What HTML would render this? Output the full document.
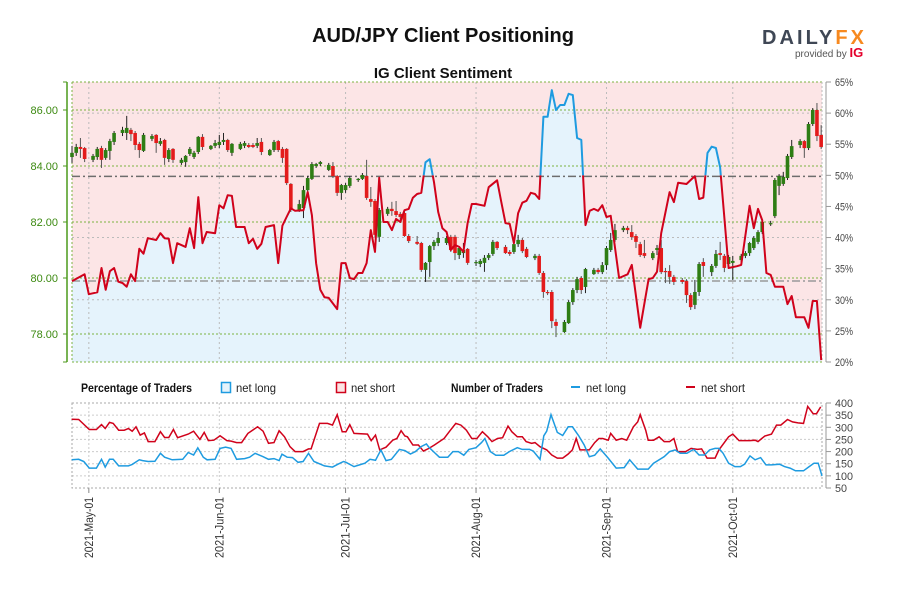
<!DOCTYPE html>
<html><head><meta charset="utf-8"><style>
html,body{margin:0;padding:0;background:#fff;width:900px;height:600px;overflow:hidden}
svg text{font-family:"Liberation Sans",sans-serif}
.nar{font-family:"Liberation Sans Narrow","Liberation Sans",sans-serif}
</style></head><body>
<svg id="c" width="900" height="600" xmlns="http://www.w3.org/2000/svg">
<text x="443" y="42" text-anchor="middle" font-size="20" font-weight="bold" fill="#111">AUD/JPY Client Positioning</text>
<g>
<text x="762" y="44" font-size="20" font-weight="bold" fill="#3f4755" textLength="102" lengthAdjust="spacing">DAILY<tspan fill="#f7891f">FX</tspan></text>
<text x="795" y="57" font-size="10" fill="#555">provided by <tspan fill="#e4002b" font-weight="bold" font-size="13">IG</tspan></text>
</g>
<text x="443" y="78" text-anchor="middle" font-size="15" font-weight="bold" fill="#111">IG Client Sentiment</text>
<g id="main"></g>
<g id="legend">
<text x="81" y="392" font-size="12" font-weight="bold" textLength="111" lengthAdjust="spacingAndGlyphs" fill="#111">Percentage of Traders</text>
<rect x="221.5" y="382.5" width="9" height="10" fill="#e6f3fb" stroke="#1e9be0" stroke-width="1.5"/>
<text x="236" y="392" font-size="12" textLength="40" lengthAdjust="spacingAndGlyphs" fill="#222">net long</text>
<rect x="336.5" y="382.5" width="9" height="10" fill="#fce4e4" stroke="#d0021b" stroke-width="1.5"/>
<text x="351" y="392" font-size="12" textLength="44" lengthAdjust="spacingAndGlyphs" fill="#222">net short</text>
<text x="451" y="392" font-size="12" font-weight="bold" textLength="92" lengthAdjust="spacingAndGlyphs" fill="#111">Number of Traders</text>
<line x1="571" y1="387" x2="580" y2="387" stroke="#1e9be0" stroke-width="2"/>
<text x="586" y="392" font-size="12" textLength="40" lengthAdjust="spacingAndGlyphs" fill="#222">net long</text>
<line x1="686" y1="387" x2="695" y2="387" stroke="#d0021b" stroke-width="2"/>
<text x="701" y="392" font-size="12" textLength="44" lengthAdjust="spacingAndGlyphs" fill="#222">net short</text>
</g>
<g id="bottom"></g>
</svg>
<script>
// ---- data ----
const monthLabels = ["2021-May-01","2021-Jun-01","2021-Jul-01","2021-Aug-01","2021-Sep-01","2021-Oct-01"];
const monthDays = [0,31,61,92,123,153];
const priceTicks = [78,80,82,84,86];
const pctTicks = [20,25,30,35,40,45,50,55,60,65];
const numTicks = [50,100,150,200,250,300,350,400];

const pctDays = [-4,-1,0,2,3,4,5,6,7,8,9,10,11,12,13,14,16,17,18,19,20,21,23,24,25,26,27,28,30,31,32,33,34,35,37,38,39,40,41,42,44,45,46,47,48,49,51,52,53,54,55,56,57,59,60,61,62,63,64,
65,66,67,68,69,70,71,72,73,74,75,76,77,78,79,80,81,82,83,84,85,86,87,88,89,90,91,92,94,95,97,98,99,100,101,102,103,104,105,106,107,108,109,110,111,112,113,114,115,116,117,118,119,120,121,
122,123,124,126,128,129,131,133,134,135,136,138,139,140,142,144,145,146,147,148,149,150,152,154,155,157,158,159,160,161,162,163,165,166,167,168,170,171,172,173,174];
const pctLong = [33.0,34.1,30.9,31.2,35.1,31.6,34.6,35.1,32.9,32.7,32.1,34.1,33.0,38.2,37.4,39.9,39.6,40.7,39.9,39.8,35.9,39.1,38.5,41.5,38.3,46.5,39.1,40.9,40.7,45.2,44.7,46.8,46.7,41.7,41.7,39.1,39.8,38.2,39.0,41.7,42.0,35.9,41.9,43.3,44.7,44.3,44.4,47.3,43.6,35.9,31.6,30.4,30.3,28.5,35.9,35.9,33.5,33.3,34.3,
34.3,35.9,41.2,37.7,49.6,42.5,42.5,41.2,43.0,42.5,44.4,44.6,46.4,47.0,47.2,52.1,52.6,48.9,44.1,41.5,40.9,38.0,38.8,38.5,37.7,42.3,45.4,45.4,45.1,48.1,49.2,45.7,42.3,42.2,39.1,43.9,45.6,45.9,47.2,47.0,46.2,59.4,59.4,63.7,60.5,61.3,61.3,63.1,62.9,56.0,55.7,42.0,44.3,44.6,44.3,
45.2,43.3,43.5,33.5,34.1,35.6,25.5,33.3,33.5,34.5,40.7,47.3,45.7,48.8,48.6,49.9,46.2,46.4,53.6,54.6,54.4,51.3,35.1,35.4,35.6,45.1,41.5,44.6,42.8,34.3,34.0,32.1,32.1,29.3,30.6,27.2,27.2,25.5,29.8,29.8,20.3];

const cDay = [-4,-3,-2,-1,1,2,3,4,5,6,8,9,10,11,12,13,15,16,17,18,19,20,22,23,24,25,26,27,29,30,31,32,33,34,36,37,38,39,40,41,43,44,45,46,47,48,50,51,52,53,54,55,57,58,59,60,61,62,64,65,66,67,68,69,71,72,73,74,75,76,78,79,80,81,82,83,85,86,87,88,89,90,92,93,94,95,96,97,99,100,101,102,103,104,106,107,108,109,110,111,113,114,115,116,117,118,120,121,122,123,124,125,127,128,129,130,131,132,134,135,136,137,138,139,141,142,143,144,145,146,148,149,150,151,152,153,155,156,157,158,159,160,162,163,164,165,166,167,169,170,171,172,173,174];
const cOpen = [84.32,84.47,84.68,84.64,84.22,84.32,84.64,84.29,84.54,84.86,85.18,85.18,85.29,85.18,84.79,84.54,84.97,85.11,84.79,84.93,84.25,84.61,84.11,84.14,84.43,84.32,84.50,85.04,84.61,84.72,84.75,84.86,84.93,84.47,84.61,84.72,84.75,84.75,84.72,84.86,84.39,84.57,84.89,84.61,84.61,83.36,82.43,82.50,83.14,83.54,84.00,84.07,83.86,84.00,83.64,83.04,83.14,83.29,83.50,83.54,83.64,82.82,82.75,81.47,82.29,82.47,82.39,82.29,82.32,81.50,81.29,81.25,80.29,80.57,81.14,81.25,81.25,81.47,81.47,80.82,80.89,81.04,80.54,80.50,80.54,80.72,80.86,81.29,81.11,80.93,80.93,81.21,81.36,81.04,80.71,80.79,80.18,79.50,79.50,78.43,78.07,78.39,79.14,79.57,80.00,79.68,80.14,80.29,80.21,80.46,81.00,81.36,81.71,81.79,81.64,81.50,81.21,80.89,80.71,81.00,81.07,80.25,80.25,80.04,79.93,79.89,79.39,79.04,79.50,80.57,80.21,80.43,80.89,80.79,80.50,80.54,80.64,80.79,80.89,81.07,81.29,81.64,81.93,82.21,83.29,83.36,83.57,84.32,84.75,84.89,84.64,85.50,86.00,85.11];
const cClose = [84.47,84.68,84.61,84.25,84.36,84.61,84.22,84.57,84.89,85.18,85.29,85.36,85.14,84.75,84.57,85.11,85.07,84.82,84.89,84.29,84.57,84.22,84.22,84.36,84.61,84.47,85.04,84.68,84.72,84.82,84.86,84.93,84.57,84.79,84.79,84.82,84.68,84.68,84.82,84.50,84.57,84.86,84.57,84.29,83.39,82.43,82.64,83.14,83.57,84.07,84.07,84.14,84.04,83.64,83.04,83.32,83.32,83.57,83.54,83.68,82.86,82.72,81.54,82.43,82.47,82.39,82.25,82.18,81.50,81.32,81.22,80.29,80.54,81.14,81.29,81.43,81.43,81.00,80.89,81.07,81.00,80.54,80.57,80.61,80.72,80.82,81.29,81.07,80.89,80.86,81.21,81.36,80.96,80.75,80.79,80.18,79.50,79.46,78.46,78.29,78.43,79.14,79.57,79.96,79.57,80.32,80.29,80.21,80.46,81.07,81.36,81.71,81.79,81.71,81.46,81.29,80.82,80.79,80.89,81.07,80.21,80.21,80.04,79.86,79.86,79.39,78.96,79.50,80.50,80.43,80.43,80.86,80.82,80.36,80.75,80.61,80.79,80.89,81.25,81.43,81.64,82.00,81.96,83.50,83.64,83.61,84.36,84.71,84.89,84.64,85.50,86.00,85.07,84.68];
const cHigh = [84.72,84.79,85.00,84.68,84.43,84.68,84.72,84.64,84.97,85.25,85.40,85.79,85.36,85.25,84.86,85.18,85.14,85.14,85.00,84.97,84.64,84.64,84.29,84.39,84.68,84.54,85.07,85.14,84.75,84.93,85.11,85.18,84.97,84.82,84.86,84.89,84.82,84.82,85.00,85.00,84.61,84.93,84.93,84.68,84.64,83.39,82.79,83.29,83.64,84.14,84.11,84.18,84.11,84.14,83.68,83.36,83.39,83.64,83.57,83.75,84.22,83.25,82.82,82.50,82.54,82.72,82.75,82.36,82.39,81.57,81.50,81.29,80.57,81.18,81.36,81.64,81.50,81.54,81.54,81.14,81.25,81.07,80.64,80.68,80.82,80.89,81.36,81.32,81.18,81.00,81.29,81.54,81.43,81.11,80.86,80.86,80.25,79.57,79.57,78.54,78.50,79.21,79.64,80.04,80.07,80.36,80.36,80.36,80.57,81.14,81.61,81.93,81.86,81.86,81.89,81.57,81.29,81.36,80.96,81.18,81.36,80.36,80.46,80.11,80.00,79.96,79.46,79.93,80.57,80.71,80.50,81.00,81.29,80.86,80.82,80.79,80.86,80.96,81.29,81.50,81.71,82.07,82.04,83.57,83.71,83.79,84.43,84.93,84.96,84.93,85.57,86.07,86.25,85.46];
const cLow = [84.11,84.36,84.29,84.14,84.14,84.22,83.93,84.22,84.22,84.75,85.07,84.93,84.89,84.57,84.29,84.50,84.89,84.47,84.72,84.04,84.14,84.11,84.04,83.97,84.36,84.25,84.43,84.57,84.57,84.64,84.64,84.75,84.50,84.36,84.57,84.64,84.64,84.64,84.64,84.39,84.36,84.50,84.50,84.11,83.32,82.36,82.36,82.14,83.07,83.50,83.93,84.00,83.82,83.57,82.93,82.79,83.04,83.22,83.43,83.50,82.79,82.54,81.43,81.29,82.22,82.22,82.18,82.07,81.47,81.25,81.18,80.22,79.86,80.04,81.00,81.14,81.18,80.93,80.64,80.68,80.72,80.47,80.43,80.39,80.22,80.64,80.79,81.00,80.86,80.79,80.86,81.11,80.89,80.71,80.64,80.11,79.29,79.39,78.21,77.89,78.04,78.36,79.04,79.46,79.43,79.46,80.11,80.14,80.14,80.29,80.93,81.29,81.64,81.57,81.36,81.07,80.75,80.71,80.64,80.82,80.14,79.82,79.79,79.75,79.79,79.11,78.86,78.89,79.36,80.04,80.07,80.36,80.64,80.21,80.43,79.93,80.57,80.71,80.79,81.00,81.21,81.57,81.86,82.14,82.96,83.29,83.50,84.25,84.64,84.29,84.57,85.43,84.89,84.61];

const shortDays = [-4.1,-2.4,0.1,1.8,3.0,3.9,4.9,5.8,7.1,8.4,9.4,10.3,11.2,12.2,13.2,14.1,15.7,17.0,18.0,19.0,20.1,21.1,23.6,24.9,26.4,27.4,28.4,29.7,31.2,32.8,33.8,35.1,36.3,37.8,40.1,41.4,42.7,44.0,45.2,46.5,47.8,49.0,50.9,52.2,52.8,54.8,56.7,57.9,59.0,60.2,61.1,62.0,63.0,66.2,67.1,68.1,69.1,70.6,72.2,73.2,74.2,75.1,75.7,77.0,78.3,79.5,80.8,82.1,84.4,85.9,87.2,88.4,89.7,91.0,92.2,93.5,94.8,95.8,97.1,98.3,99.6,100.5,101.8,103.0,103.9,105.2,106.0,107.2,108.8,110.0,111.3,112.6,113.9,114.9,115.8,116.7,118.9,120.2,121.2,122.1,123.4,124.0,125.3,126.6,127.8,129.4,130.4,131.0,132.3,132.9,134.2,135.5,136.7,138.0,139.0,139.9,141.8,143.1,144.6,145.6,146.9,148.8,149.7,152.0,153.0,154.5,157.1,158.3,159.0,160.6,162.2,163.4,164.4,166.0,167.2,168.5,169.8,170.8,172.1,172.9,173.9];
const shortNum = [333,332,291,291,311,295,320,316,288,288,295,284,302,268,277,241,241,282,258,258,291,257,272,284,250,279,245,247,265,245,243,237,237,275,302,284,234,237,286,261,220,200,200,211,211,316,316,309,352,282,282,311,275,272,245,268,207,218,247,254,286,264,261,227,227,202,213,227,254,288,316,309,288,254,254,282,261,241,254,257,305,282,261,261,241,234,237,220,207,186,173,173,190,207,254,207,207,237,254,254,247,275,247,254,247,302,322,352,288,247,247,261,241,241,254,200,200,213,209,211,173,173,207,261,272,245,245,247,241,264,272,309,309,332,322,318,316,386,356,356,384];
const longDays = [-4.1,-2.4,-1.2,0.1,1.8,3.0,3.9,4.9,5.8,7.1,9.4,10.3,12.0,12.8,14.1,15.7,17.0,18.0,19.8,22.3,23.6,24.9,25.9,27.2,28.1,30.0,31.2,32.5,33.8,35.1,37.0,38.2,39.5,41.4,42.7,44.0,45.2,45.9,47.1,48.4,49.7,50.9,52.2,53.5,56.0,57.9,59.2,60.5,61.1,63.0,64.3,65.6,66.8,68.1,69.4,70.6,71.9,73.8,75.1,76.4,77.6,78.9,80.2,80.8,82.1,83.3,85.3,86.5,87.8,89.1,90.3,92.0,93.3,94.1,95.4,96.7,98.6,99.9,101.8,103.0,104.7,105.6,107.2,108.1,108.8,109.8,111.3,112.6,113.9,114.9,116.4,117.7,118.9,120.2,121.5,123.4,125.3,127.2,128.5,130.4,132.9,134.2,136.7,138.0,139.3,140.5,142.1,143.7,145.0,146.3,147.5,148.8,149.7,150.7,152.0,153.5,154.8,155.8,157.1,158.3,159.6,160.9,162.2,164.1,165.3,166.6,167.9,169.8,171.0,172.3,173.3,174.2];
const longNum = [166,168,159,132,132,168,136,168,168,141,141,147,166,163,159,160,193,177,166,168,196,186,215,177,166,168,213,218,213,168,171,177,193,179,168,171,163,189,177,175,156,159,193,159,141,136,148,159,156,138,145,152,168,164,207,163,168,209,204,190,200,220,231,218,196,177,177,200,200,185,209,216,237,254,200,185,185,200,216,209,209,202,168,265,284,352,279,266,302,302,265,227,179,185,211,173,132,134,166,128,128,152,179,200,207,193,193,209,186,186,207,213,213,193,152,138,138,148,182,166,175,145,145,148,138,132,121,121,136,152,152,100];

// ---- scales ----
const NS="http://www.w3.org/2000/svg";
const X0=72,X1=822, D0=-4, D1=174.2;
const xS=d=>X0+(d-D0)*(X1-X0)/(D1-D0);
const yP=p=>110+(86-p)*28;          // price
const yPct=v=>82+(65-v)*280/45;      // percentage
const yN=v=>403+(400-v)*85/350;      // trader count
function el(tag,attrs,parent){const e=document.createElementNS(NS,tag);for(const k in attrs)e.setAttribute(k,attrs[k]);parent.appendChild(e);return e;}
const main=document.getElementById('main'), bot=document.getElementById('bottom');

let bg=el('rect',{x:X0,y:82,width:X1-X0,height:280,fill:'#fce5e6'},main);


let areaD='M'+xS(pctDays[0])+',362 '+pctDays.map((d,i)=>'L'+xS(d).toFixed(1)+','+yPct(pctLong[i]).toFixed(1)).join(' ')+' L'+xS(pctDays[pctDays.length-1])+',362 Z';
let area=el('path',{d:areaD,fill:'#e5f3fc'},main);



pctTicks.forEach(v=>{if(v==40||v==30||v==60){el('line',{x1:X0,x2:X1,y1:yPct(v),y2:yPct(v),stroke:'#bbb','stroke-dasharray':'2,3','stroke-width':1},main);}});
monthDays.forEach(d=>{let g=el('line',{x1:xS(d),x2:xS(d),y1:82,y2:362,stroke:'#bbb','stroke-dasharray':'2,3'},main);});
[82,362].forEach(y=>el('line',{x1:X0,x2:X1,y1:y,y2:y,stroke:'#7cb342','stroke-dasharray':'2,2'},main));
priceTicks.forEach(p=>{let g=el('line',{x1:X0,x2:X1,y1:yP(p),y2:yP(p),stroke:'#7cb342','stroke-dasharray':'2,2'},main);});
el('line',{x1:X0,x2:X0,y1:82,y2:362,stroke:'#7cb342','stroke-dasharray':'2,2'},main);
el('line',{x1:X1,x2:X1,y1:82,y2:362,stroke:'#bbb','stroke-dasharray':'2,2'},main);
let r50=el('line',{x1:X0,x2:X1,y1:yPct(50)+1,y2:yPct(50)+1,stroke:'#6d6d6d','stroke-width':1.5,'stroke-dasharray':'8,3,2,3'},main);


let r2=el('line',{x1:X0,x2:X1,y1:281,y2:281,stroke:'#9a9a9a','stroke-width':1.5,'stroke-dasharray':'8,3,2,3'},main);



cDay.forEach((d,i)=>{
  const x=xS(d), up=cClose[i]>=cOpen[i];
  const g=el('g',{},main);
  
  
  el('line',{x1:x,x2:x,y1:yP(cHigh[i]),y2:yP(cLow[i]),stroke:up?'#222':'#555','stroke-width':1},g);
  const t=yP(Math.max(cOpen[i],cClose[i])), b=yP(Math.min(cOpen[i],cClose[i]));
  el('rect',{x:x-1.8,y:t,width:3.6,height:Math.max(1.2,b-t),fill:up?'#2e7d14':'#e31b1b'},g);
});

const defs=el('defs',{},main);
const c1=el('clipPath',{id:'above'},defs);el('rect',{x:0,y:0,width:900,height:yPct(50)},c1);
const c2=el('clipPath',{id:'below'},defs);el('rect',{x:0,y:yPct(50),width:900,height:400},c2);
const lineD=pctDays.map((d,i)=>(i?'L':'M')+xS(d).toFixed(1)+','+yPct(pctLong[i]).toFixed(1)).join(' ');
let lb=el('path',{d:lineD,fill:'none',stroke:'#1e9be0','stroke-width':2,'clip-path':'url(#above)','stroke-linejoin':'round'},main);


let lr=el('path',{d:lineD,fill:'none',stroke:'#d0021b','stroke-width':2,'clip-path':'url(#below)','stroke-linejoin':'round'},main);



el('line',{x1:67,x2:67,y1:82,y2:362,stroke:'#4c9a1c','stroke-width':1.5},main);
el('line',{x1:63,x2:67,y1:82,y2:82,stroke:'#4c9a1c'},main);
el('line',{x1:63,x2:67,y1:362,y2:362,stroke:'#4c9a1c'},main);
priceTicks.forEach(p=>{
  el('line',{x1:63,x2:67,y1:yP(p),y2:yP(p),stroke:'#4c9a1c'},main);
  const t=el('text',{x:58,y:yP(p)+4,'text-anchor':'end','font-size':11,fill:'#3d8a12'},main);
  t.textContent=p.toFixed(2);
  
  
});
el('line',{x1:826,x2:826,y1:82,y2:362,stroke:'#999','stroke-width':1},main);
pctTicks.forEach(v=>{
  el('line',{x1:826,x2:831,y1:yPct(v),y2:yPct(v),stroke:'#999'},main);
  const t=el('text',{x:835,y:yPct(v)+4,'font-size':11,fill:'#444',textLength:18,lengthAdjust:'spacingAndGlyphs'},main);
  t.textContent=v+'%';
  
  
});

numTicks.forEach(v=>{if(v>50&&v<400)el('line',{x1:X0,x2:X1,y1:yN(v),y2:yN(v),stroke:'#ccc','stroke-dasharray':'2,2'},bot);});
el('rect',{x:X0,y:403,width:X1-X0,height:85,fill:'none',stroke:'#aaa','stroke-dasharray':'2,2'},bot);
monthDays.forEach((d,i)=>{
  el('line',{x1:xS(d),x2:xS(d),y1:403,y2:488,stroke:'#ccc','stroke-dasharray':'2,2'},bot);
  el('line',{x1:xS(d),x2:xS(d),y1:488,y2:493,stroke:'#888'},bot);
  const t=el('text',{x:0,y:0,'text-anchor':'end','font-size':12,fill:'#333',textLength:61,lengthAdjust:'spacingAndGlyphs',transform:`translate(${xS(d)+4},497) rotate(-90)`},bot);
  t.textContent=monthLabels[i];
  
  
});
el('line',{x1:826,x2:826,y1:403,y2:488,stroke:'#999'},bot);
numTicks.forEach(v=>{
  el('line',{x1:826,x2:831,y1:yN(v),y2:yN(v),stroke:'#999'},bot);
  const t=el('text',{x:835,y:yN(v)+4,'font-size':11,fill:'#444',textLength:String(v).length*6,lengthAdjust:'spacingAndGlyphs'},bot);
  t.textContent=v;
  
  
});
let sl=el('path',{d:shortDays.map((d,i)=>(i?'L':'M')+xS(d).toFixed(1)+','+yN(shortNum[i]).toFixed(1)).join(' '),fill:'none',stroke:'#d0021b','stroke-width':1.5},bot);


let ll=el('path',{d:longDays.map((d,i)=>(i?'L':'M')+xS(d).toFixed(1)+','+yN(longNum[i]).toFixed(1)).join(' '),fill:'none',stroke:'#1e9be0','stroke-width':1.5},bot);


</script>
</body></html>
